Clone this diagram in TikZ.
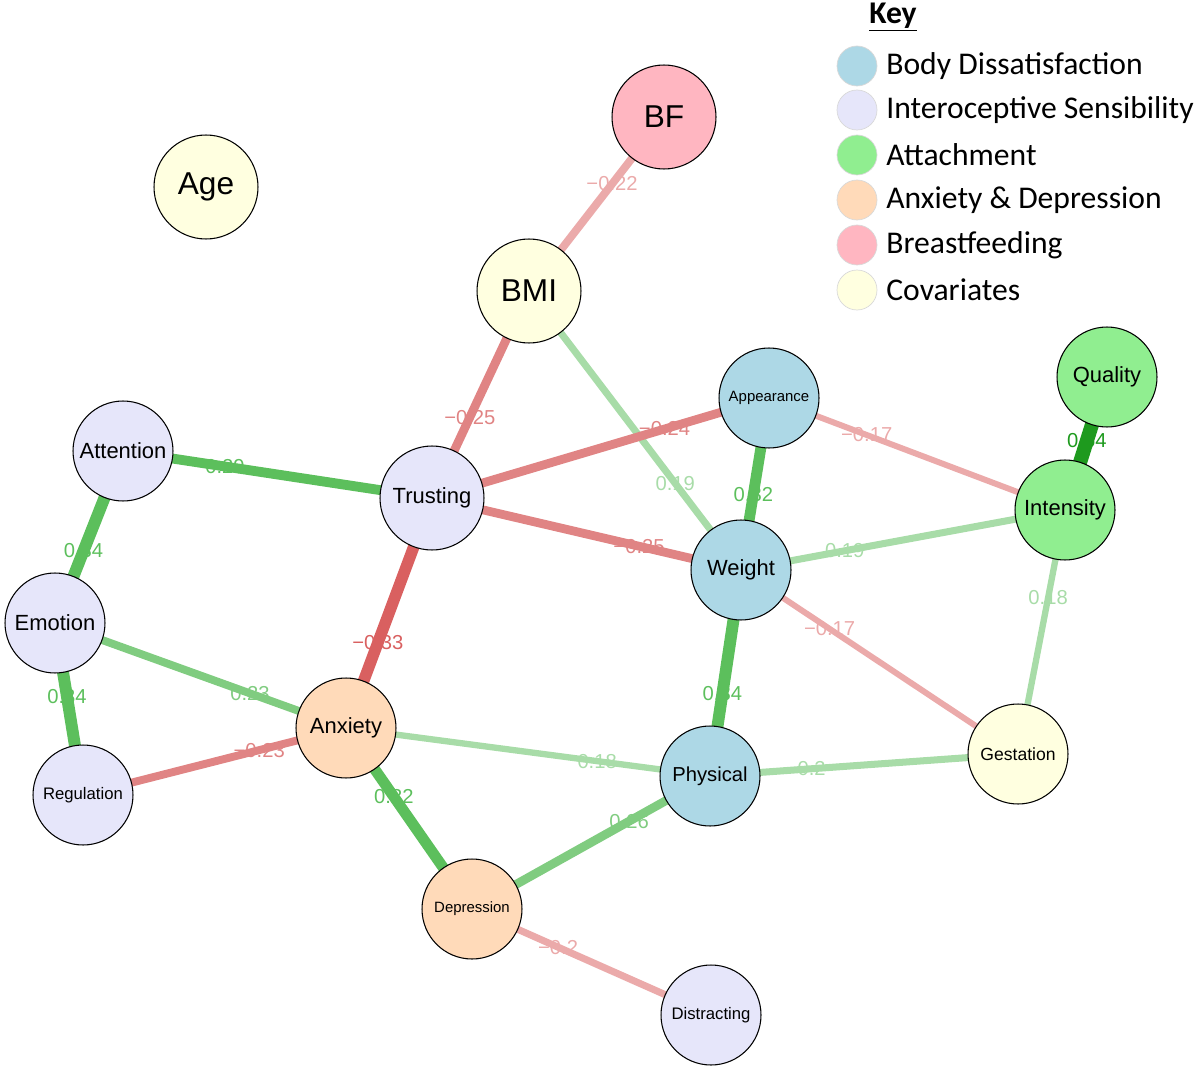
\documentclass[tikz,border=0pt]{standalone}
\usepackage{fontspec}
\setmainfont{Liberation Sans}
\newfontfamily\keyfont{Carlito}
\usetikzlibrary{backgrounds}
\definecolor{bdblue}{HTML}{ADD8E6}
\definecolor{islav}{HTML}{E6E6FA}
\definecolor{attgreen}{HTML}{90EE90}
\definecolor{adpeach}{HTML}{FFDAB9}
\definecolor{bfpink}{HTML}{FFB6C1}
\definecolor{covyellow}{HTML}{FFFFE0}
\definecolor{gdark}{HTML}{1E9A1E}
\definecolor{gstrong}{HTML}{5CBF5C}
\definecolor{gmid}{HTML}{80CC80}
\definecolor{glight}{HTML}{A8DCA8}
\definecolor{rstrong}{HTML}{D96060}
\definecolor{rmid}{HTML}{E08484}
\definecolor{rlight}{HTML}{EBAAAA}
\begin{document}
\begin{tikzpicture}[x=0.02cm,y=-0.02cm]
\tikzstyle{var}=[circle,draw=black,line width=0.6pt,minimum size=2cm,inner sep=0pt]
\tikzstyle{big}=[var,minimum size=2.08cm,font=\fontsize{18}{20}\selectfont]
\tikzstyle{mid}=[var,font=\fontsize{12.5}{14}\selectfont]
\tikzstyle{small}=[var,font=\fontsize{8.5}{10}\selectfont]
\tikzstyle{edge}=[line cap=butt]
\tikzstyle{lab}=[font=\fontsize{11.5}{13}\selectfont,inner sep=0pt]
\tikzstyle{keydot}=[circle,draw=black!15,minimum size=0.8cm,inner sep=0pt]
\useasboundingbox (0,0) rectangle (1200,1071);
% variables
\node[big,fill=covyellow] (age) at (206,187) {Age};
\node[big,fill=bfpink] (bf) at (664,117) {BF};
\node[big,fill=covyellow] (bmi) at (529,291) {BMI};
\node[small,fill=bdblue] (appearance) at (769,398) {Appearance};
\node[mid,fill=attgreen] (quality) at (1107,377) {Quality};
\node[mid,fill=islav] (attention) at (123,451) {Attention};
\node[mid,fill=islav,minimum size=2.08cm] (trusting) at (432,498) {Trusting};
\node[mid,fill=attgreen] (intensity) at (1065,510) {Intensity};
\node[mid,fill=bdblue] (weight) at (741,570) {Weight};
\node[mid,fill=islav] (emotion) at (55,623) {Emotion};
\node[mid,fill=adpeach] (anxiety) at (346,728) {Anxiety};
\node[small,fill=covyellow,font=\fontsize{10}{12}\selectfont] (gestation) at (1018,754) {Gestation};
\node[mid,fill=bdblue,font=\fontsize{11.5}{13}\selectfont] (physical) at (710,776) {Physical};
\node[small,fill=islav,font=\fontsize{9.5}{11}\selectfont] (regulation) at (83,795) {Regulation};
\node[small,fill=adpeach] (depression) at (472,909) {Depression};
\node[small,fill=islav,font=\fontsize{9.5}{11}\selectfont] (distracting) at (711,1015) {Distracting};
% edges, label spots kept as coordinates
\begin{pgfonlayer}{background}
\draw[edge,rlight,line width=4.5pt] (bf.center) -- coordinate[pos=0.385](l1) (bmi.center);
\draw[edge,rmid,line width=5pt] (bmi.center) -- coordinate[pos=0.61](l2) (trusting.center);
\draw[edge,glight,line width=4pt] (bmi.center) -- coordinate[pos=0.69](l3) (weight.center);
\draw[edge,rmid,line width=5pt] (trusting.center) -- coordinate[pos=0.69](l4) (appearance.center);
\draw[edge,gstrong,line width=6.2pt] (appearance.center) -- coordinate[pos=0.56](l5) (weight.center);
\draw[edge,rlight,line width=3.4pt] (appearance.center) -- coordinate[pos=0.33](l6) (intensity.center);
\draw[edge,gdark,line width=8pt] (quality.center) -- coordinate[pos=0.48](l7) (intensity.center);
\draw[edge,gstrong,line width=5.6pt] (attention.center) -- coordinate[pos=0.33](l8) (trusting.center);
\draw[edge,rmid,line width=5pt] (trusting.center) -- coordinate[pos=0.67](l9) (weight.center);
\draw[edge,glight,line width=4pt] (weight.center) -- coordinate[pos=0.32](l10) (intensity.center);
\draw[edge,glight,line width=3.6pt] (intensity.center) -- coordinate[pos=0.36](l11) (gestation.center);
\draw[edge,rlight,line width=3.4pt] (weight.center) -- coordinate[pos=0.32](l12) (gestation.center);
\draw[edge,gstrong,line width=6.8pt] (weight.center) -- coordinate[pos=0.6](l13) (physical.center);
\draw[edge,gstrong,line width=6.8pt] (attention.center) -- coordinate[pos=0.58](l14) (emotion.center);
\draw[edge,rstrong,line width=6.6pt] (trusting.center) -- coordinate[pos=0.63](l15) (anxiety.center);
\draw[edge,gmid,line width=4.5pt] (emotion.center) -- coordinate[pos=0.67](l16) (anxiety.center);
\draw[edge,gstrong,line width=6.8pt] (emotion.center) -- coordinate[pos=0.43](l17) (regulation.center);
\draw[edge,rmid,line width=4.5pt] (regulation.center) -- coordinate[pos=0.67](l18) (anxiety.center);
\draw[edge,glight,line width=3.6pt] (anxiety.center) -- coordinate[pos=0.69](l19) (physical.center);
\draw[edge,glight,line width=4pt] (physical.center) -- coordinate[pos=0.33](l20) (gestation.center);
\draw[edge,gstrong,line width=6.2pt] (anxiety.center) -- coordinate[pos=0.38](l21) (depression.center);
\draw[edge,gmid,line width=5pt] (depression.center) -- coordinate[pos=0.66](l22) (physical.center);
\draw[edge,rlight,line width=4pt] (depression.center) -- coordinate[pos=0.36](l23) (distracting.center);
\end{pgfonlayer}
% edge labels on top
\foreach \i/\c/\t in {1/rlight/−0.22,2/rmid/−0.25,3/glight/0.19,4/rmid/−0.24,5/gstrong/0.32,6/rlight/−0.17,7/gdark/0.54,8/gstrong/0.29,9/rmid/−0.25,10/glight/0.19,11/glight/0.18,12/rlight/−0.17,13/gstrong/0.34,14/gstrong/0.34,15/rstrong/−0.33,16/gmid/0.23,17/gstrong/0.34,18/rmid/−0.23,19/glight/0.18,20/glight/0.2,21/gstrong/0.32,22/gmid/0.26,23/rlight/−0.2}
  \node[lab,text=\c] (t\i) at (l\i) {\t};
% key
\node[font=\keyfont\bfseries\fontsize{18}{20}\selectfont,inner sep=0pt] (key) at (893,17) {\underline{Key}};
\foreach \y/\c/\t [count=\i] in {66/bdblue/Body Dissatisfaction,110/islav/Interoceptive Sensibility,155/attgreen/Attachment,200/adpeach/Anxiety \& Depression,245/bfpink/Breastfeeding,290/covyellow/Covariates}{
  \node[keydot,fill=\c] (k\i) at (857,\y) {};
  \node[anchor=west,inner sep=0pt,font=\keyfont\fontsize{18}{20}\selectfont] (kt\i) at (886,\y) {\t};
}
\end{tikzpicture}
\end{document}
